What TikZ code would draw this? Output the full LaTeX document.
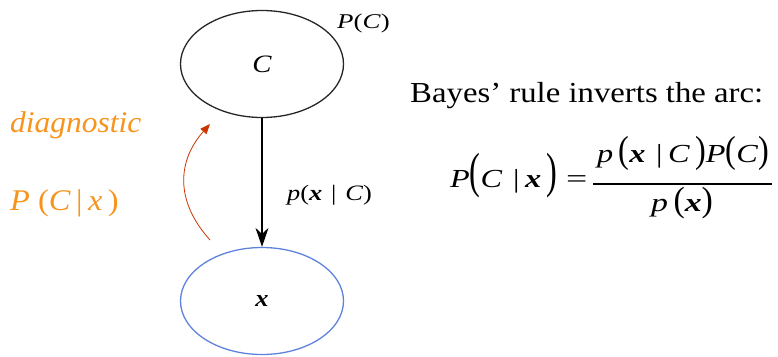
\documentclass[tikz,border=0pt]{standalone}
\usepackage{graphicx}
\usepackage{fontspec}
\setmainfont{Liberation Serif}
\usetikzlibrary{shapes.geometric,arrows.meta}
\definecolor{diagorange}{RGB}{247,148,29}
\definecolor{arcred}{RGB}{204,51,0}
\definecolor{nodeblue}{RGB}{95,130,220}
\newcommand{\myit}[1]{\textit{#1}}
\newcommand{\bfx}{\textbf{\textit{x}}}
\newcommand{\tallp}[2]{\scalebox{1}[#1]{#2}}
\newcommand{\wide}[1]{\scalebox{1.24}[1]{#1}}
\tikzset{
  varnode/.style={ellipse, draw, line width=1.3pt, minimum width=163pt, minimum height=107pt, inner sep=0pt},
  lbl/.style={inner sep=0pt, anchor=base west},
  mid/.style={inner sep=0pt, anchor=base},
}
\begin{document}
\begin{tikzpicture}[x=1pt,y=-1pt]
\useasboundingbox (0,0) rectangle (778,356);
\node[varnode, draw=black!85] (C) at (262,64) {\fontsize{25}{28}\selectfont\scalebox{1.15}[1]{\myit{C}}};
\node[varnode, draw=nodeblue] (X) at (262,301) {\fontsize{24}{28}\selectfont\scalebox{1.1}[1]{\bfx}};
\node[lbl] (PC) at (337,28) {\fontsize{21}{24}\selectfont\scalebox{1.28}[1]{\myit{P}(\myit{C})}};
\draw[line width=1.3pt, -{Stealth[length=19pt,width=13pt]}] (C) -- (X);
\node[lbl] (lik) at (287,200) {\fontsize{22}{26}\selectfont\scalebox{1.2}[1]{\myit{p}(\bfx\,\,|\,\,\myit{C})}};
\node[lbl, text=diagorange] (diag) at (10,132) {\fontsize{30}{34}\selectfont\scalebox{1.05}[1]{\myit{diagnostic}}};
\node[lbl, text=diagorange] (post) at (10,210) {\fontsize{30}{34}\selectfont\scalebox{1.08}[1]{\myit{P}\ (\myit{C}\,|\,\myit{x}\,)}};
\coordinate (cs) at (210,240);
\coordinate (ce) at (210,124);
\draw[arcred, line width=0.8pt, -{Triangle[length=10pt,width=8pt]}] (cs) .. controls (174,200) and (178,160) .. (ce);
\node[lbl] (bayes) at (410,102) {\fontsize{29}{34}\selectfont\scalebox{1.13}[1]{Bayes’ rule inverts the arc:}};
% formula
\node[lbl] (lhs) at (450,187) {\fontsize{26}{30}\selectfont\wide{\myit{P}\tallp{1.9}{(}\myit{C}\,\,|\,\bfx\,\tallp{1.9}{)}}};
\node[lbl] (eq) at (566,187) {\fontsize{26}{30}\selectfont\scalebox{1.45}[1]{=}};
\coordinate (barl) at (593,184);
\coordinate (barr) at (772,184);
\draw[line width=1.1pt] (barl) -- (barr);
\node[mid] (num) at (683,162) {\fontsize{26}{30}\selectfont\wide{\myit{p}\,\tallp{1.45}{(}\bfx\,\,|\,\myit{C}\,\tallp{1.45}{)}\myit{P}\tallp{1.45}{(}\myit{C}\tallp{1.45}{)}}};
\node[mid] (den) at (682,211) {\fontsize{26}{30}\selectfont\scalebox{1.3}[1]{\myit{p}\,\tallp{1.35}{(}\bfx\tallp{1.35}{)}}};
\end{tikzpicture}
\end{document}
